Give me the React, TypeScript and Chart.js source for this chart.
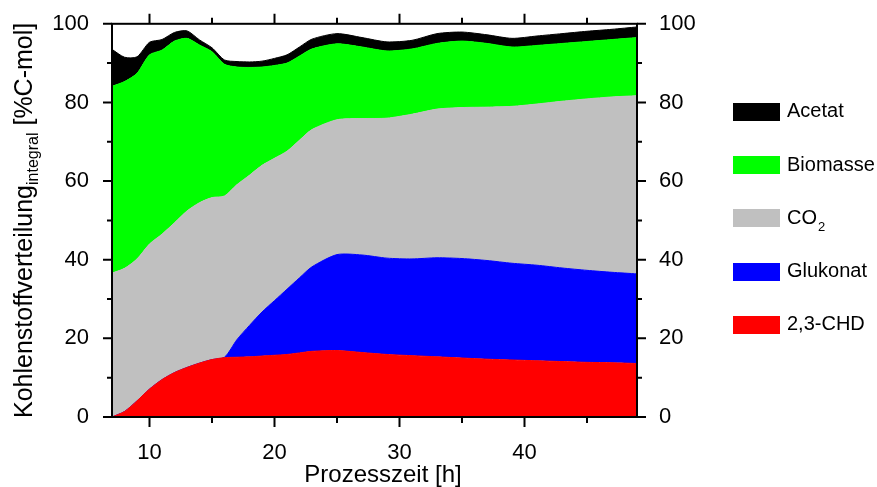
import React, { useEffect, useRef } from "react";
import { Chart, registerables } from "chart.js";

Chart.register(...registerables);

// Process time [h]
const hours = [7, 8, 9, 10, 11, 12, 13, 14, 15, 16, 17, 18, 19, 20, 21, 22, 23, 25, 27, 29, 31, 33, 35, 37, 39, 41, 43, 45, 47, 49];

// Carbon distribution [%C-mol], stacked bottom to top
const chd = [0, 1.4, 4.1, 7.1, 9.5, 11.3, 12.6, 13.7, 14.6, 15.1, 15.2, 15.3, 15.5, 15.7, 15.9, 16.3, 16.7, 16.9, 16.4, 15.9, 15.6, 15.3, 15.0, 14.7, 14.5, 14.3, 14.1, 13.9, 13.8, 13.6];
const glukonat = [0, 0, 0, 0, 0, 0, 0, 0, 0, 0.1, 4.5, 8.0, 11.2, 13.9, 16.6, 19.1, 21.5, 24.4, 24.8, 24.5, 24.6, 25.2, 25.3, 25.1, 24.6, 24.3, 23.8, 23.4, 23.0, 22.8];
const co2 = [36.6, 36.4, 36.1, 36.9, 37.0, 38.1, 39.8, 40.8, 41.2, 41.0, 39.4, 38.2, 37.3, 36.2, 35.1, 35.0, 34.9, 34.3, 34.7, 35.6, 36.8, 37.8, 38.4, 39.0, 39.9, 41.0, 42.4, 43.6, 44.6, 45.3];
const biomasse = [47.5, 47.5, 47.2, 48.1, 46.8, 46.2, 43.9, 40.1, 37.1, 33.5, 29.9, 27.4, 25.0, 23.6, 22.4, 21.4, 20.5, 19.3, 18.2, 17.1, 16.6, 16.7, 16.9, 16.2, 15.1, 14.9, 14.7, 14.6, 14.6, 14.8];
const acetat = [9.4, 6.2, 4.2, 3.2, 2.7, 2.2, 1.9, 1.3, 1.0, 1.1, 1.4, 1.4, 1.5, 1.8, 2.1, 2.3, 2.5, 2.6, 2.4, 2.3, 2.2, 2.5, 2.3, 2.2, 2.2, 2.4, 2.5, 2.6, 2.6, 2.7];

const xMajorTicks = [10, 20, 30, 40];
const xMinorTicks = [15, 25, 35, 45];
const yMajorTicks = [0, 20, 40, 60, 80, 100];
const yMinorTicks = [10, 30, 50, 70, 90];

const seriesNames = ["2,3-CHD", "Glukonat", "CO2", "Biomasse", "Acetat"];
const seriesColors = ["#ff0000", "#0000ff", "#c0c0c0", "#00ff00", "#000000"];
const legendOrder = ["Acetat", "Biomasse", "CO2", "Glukonat", "2,3-CHD"];

const xTitle = "Prozesszeit [h]";
const yTitleMain = "Kohlenstoffverteilung";
const yTitleSub = "integral";
const yTitleRest = " [%C-mol]";

const FONT = "'Liberation Sans', Arial, Helvetica, sans-serif";

const framePlugin = {
  id: "framePlugin",
  afterDraw(chart: any) {
    const { ctx, chartArea } = chart;
    const { left, right, top, bottom } = chartArea;
    const xs = chart.scales.x;
    const ys = chart.scales.y;
    ctx.save();
    ctx.strokeStyle = "#000";
    ctx.lineWidth = 2;
    ctx.strokeRect(left, top, right - left, bottom - top);
    ctx.beginPath();
    const xt = (v: number, len: number) => {
      const p = xs.getPixelForValue(v);
      ctx.moveTo(p, bottom);
      ctx.lineTo(p, bottom + len);
      ctx.moveTo(p, top);
      ctx.lineTo(p, top - len);
    };
    const yt = (v: number, len: number) => {
      const p = ys.getPixelForValue(v);
      ctx.moveTo(left, p);
      ctx.lineTo(left - len, p);
      ctx.moveTo(right, p);
      ctx.lineTo(right + len, p);
    };
    xMajorTicks.forEach((v) => xt(v, 10));
    xMinorTicks.forEach((v) => xt(v, 6));
    yMajorTicks.forEach((v) => yt(v, 9));
    yMinorTicks.forEach((v) => yt(v, 5));
    ctx.stroke();

    ctx.fillStyle = "#000";
    // x title
    ctx.font = `24px ${FONT}`;
    ctx.textAlign = "center";
    ctx.textBaseline = "alphabetic";
    ctx.fillText(xTitle, 383, 482);

    // y title (rotated, with subscript)
    const cy = (top + bottom) / 2;
    ctx.save();
    ctx.translate(0, cy);
    ctx.rotate(-Math.PI / 2);
    ctx.textAlign = "left";
    ctx.font = `25px ${FONT}`;
    const w1 = ctx.measureText(yTitleMain).width;
    const w3 = ctx.measureText(yTitleRest).width;
    ctx.font = `16px ${FONT}`;
    const w2 = ctx.measureText(yTitleSub).width;
    let sx = -(w1 + w2 + w3) / 2;
    ctx.font = `25px ${FONT}`;
    ctx.fillText(yTitleMain, sx, 32);
    sx += w1;
    ctx.font = `16px ${FONT}`;
    ctx.fillText(yTitleSub, sx, 38);
    sx += w2;
    ctx.font = `25px ${FONT}`;
    ctx.fillText(yTitleRest, sx, 32);
    ctx.restore();

    // legend
    const startY = 111.7;
    const step = 53.3;
    legendOrder.forEach((name, i) => {
      const idx = seriesNames.indexOf(name);
      const cyy = startY + i * step;
      ctx.fillStyle = seriesColors[idx];
      ctx.fillRect(733, Math.round(cyy - 9), 47, 18);
      ctx.fillStyle = "#000";
      ctx.textAlign = "left";
      ctx.textBaseline = "middle";
      ctx.font = `20px ${FONT}`;
      if (name === "CO2") {
        ctx.fillText("CO", 787, cyy);
        const wco = ctx.measureText("CO").width;
        ctx.font = `13px ${FONT}`;
        ctx.fillText("2", 787 + wco + 1, cyy + 9);
      } else {
        ctx.fillText(name, 787, cyy);
      }
    });
    ctx.restore();
  },
};

export default function App() {
  const canvasRef = useRef<HTMLCanvasElement | null>(null);

  useEffect(() => {
    const canvas = canvasRef.current;
    if (!canvas) return;
    const seriesData = [chd, glukonat, co2, biomasse, acetat];
    const datasets = seriesData.map((vals, i) => ({
      label: seriesNames[i],
      data: hours.map((h, j) => ({ x: h, y: vals[j] })),
      backgroundColor: seriesColors[i],
      borderColor: seriesColors[i],
      borderWidth: 1,
      pointRadius: 0,
      tension: 0.25,
      fill: i === 0 ? "origin" : "-1",
    }));

    const xTickFont = { family: FONT, size: 22 };
    const yTickFont = { family: FONT, size: 22, lineHeight: 0.8 };

    const chart = new Chart(canvas, {
      type: "line",
      data: { datasets },
      plugins: [framePlugin],
      options: {
        responsive: false,
        animation: false,
        devicePixelRatio: 1,
        layout: { padding: { top: 22, left: 0, right: 0, bottom: 0 } },
        plugins: {
          legend: { display: false },
          tooltip: { enabled: false },
          filler: { propagate: false },
        },
        scales: {
          x: {
            type: "linear",
            position: "bottom",
            min: 7,
            max: 49,
            grid: { display: false },
            border: { display: false },
            afterBuildTicks: (scale: any) => {
              scale.ticks = xMajorTicks.map((v) => ({ value: v }));
            },
            afterFit: (scale: any) => {
              scale.height = 70;
            },
            ticks: {
              font: xTickFont,
              color: "#000",
              padding: 15,
              maxRotation: 0,
              autoSkip: false,
            },
          },
          y: {
            type: "linear",
            position: "left",
            stacked: true,
            min: 0,
            max: 100,
            grid: { display: false },
            border: { display: false },
            afterBuildTicks: (scale: any) => {
              scale.ticks = yMajorTicks.map((v) => ({ value: v }));
            },
            afterFit: (scale: any) => {
              scale.width = 112;
            },
            ticks: { font: yTickFont, color: "#000", padding: 15 },
          },
          y2: {
            type: "linear",
            position: "right",
            min: 0,
            max: 100,
            grid: { display: false },
            border: { display: false },
            afterBuildTicks: (scale: any) => {
              scale.ticks = yMajorTicks.map((v) => ({ value: v }));
            },
            afterFit: (scale: any) => {
              scale.width = 240;
            },
            ticks: { font: yTickFont, color: "#000", padding: 14 },
          },
        },
      },
    } as any);

    return () => {
      chart.destroy();
    };
  }, []);

  return (
    <div style={{ position: "absolute", left: 0, top: 0, width: 877, height: 487, background: "#fff" }}>
      <canvas ref={canvasRef} width={877} height={487} style={{ display: "block" }} />
    </div>
  );
}
